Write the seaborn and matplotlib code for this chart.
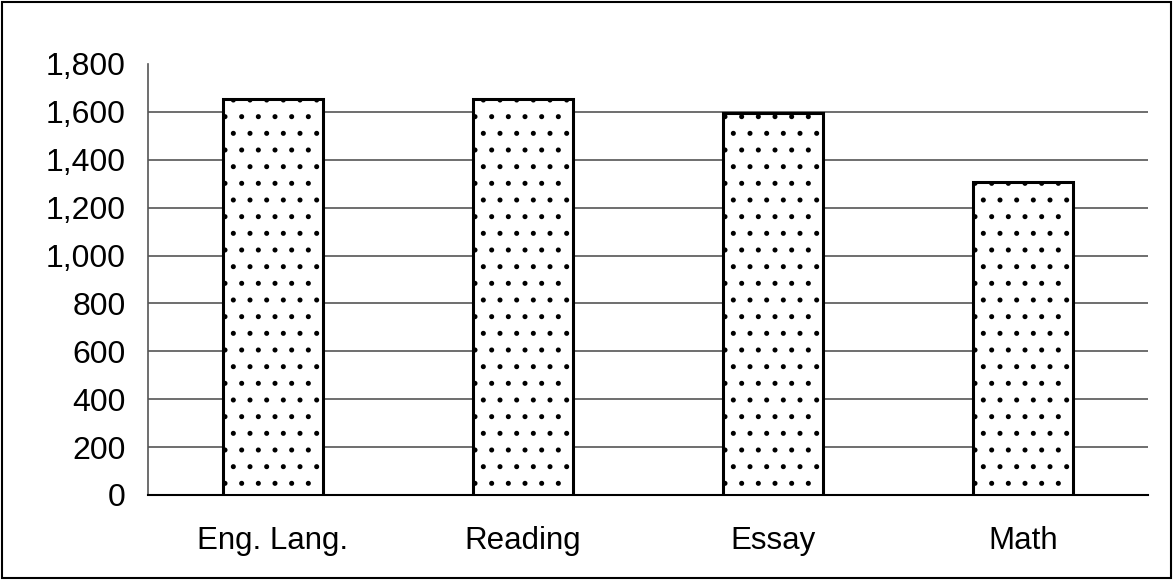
import matplotlib
matplotlib.use("Agg")
import matplotlib.pyplot as plt
from matplotlib.patches import Rectangle
from matplotlib.ticker import FuncFormatter, FixedLocator
import seaborn as sns

# Données
subjects = ["Eng. Lang.", "Reading", "Essay", "Math"]
counts = [1654, 1654, 1595, 1307]
y_ticks = [0, 200, 400, 600, 800, 1000, 1200, 1400, 1600, 1800]

sns.set_style("white")
plt.rcParams["font.family"] = ["Liberation Sans", "DejaVu Sans"]
plt.rcParams["hatch.color"] = "#444444"
plt.rcParams["hatch.linewidth"] = 1.2

fig = plt.figure(figsize=(11.73, 5.80), dpi=100)
ax = fig.add_axes([0.126, 0.1466, 0.853, 0.7431])

sns.barplot(x=subjects, y=counts, color="white", edgecolor="black",
            linewidth=2.2, width=0.4, ax=ax, zorder=3)
for p in ax.patches:
    p.set_hatch(".")

ax.set_xlim(-0.5, 3.5)
ax.set_ylim(0, 1800)
ax.set_yticks(y_ticks)
ax.yaxis.set_major_formatter(FuncFormatter(lambda v, _: f"{int(v):,}"))
for yv in y_ticks[1:-1]:
    ax.axhline(yv, color="#555555", linewidth=1.2, zorder=1)

ax.xaxis.set_minor_locator(FixedLocator([-0.5, 0.5, 1.5, 2.5, 3.5]))
ax.tick_params(axis="x", which="major", length=0, pad=22, labelsize=22.5, labelcolor="black")
ax.tick_params(axis="x", which="minor", length=8, width=1, color="#555555", direction="out")
ax.tick_params(axis="y", length=8, width=1, color="#555555", direction="out", pad=8,
               labelsize=23, labelcolor="black")

for side in ["top", "right"]:
    ax.spines[side].set_visible(False)
ax.spines["left"].set_color("#555555")
ax.spines["left"].set_linewidth(1.2)
ax.spines["bottom"].set_color("black")
ax.spines["bottom"].set_linewidth(1.5)
ax.set_xlabel("")
ax.set_ylabel("")

fig.patches.append(Rectangle((0.002, 0.003), 0.996, 0.994, transform=fig.transFigure,
                             fill=False, edgecolor="black", linewidth=1.5))

fig.savefig("out.png", dpi=100)
